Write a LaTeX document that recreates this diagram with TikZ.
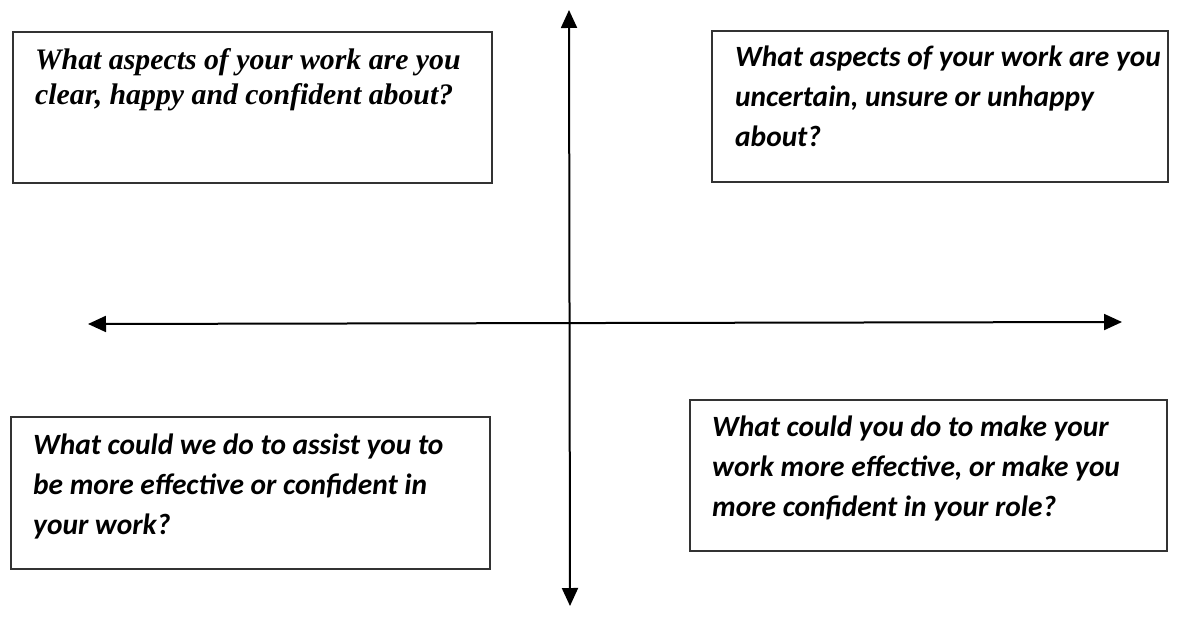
\documentclass[tikz,border=0pt]{standalone}
\usepackage{fontspec}
\setmainfont{Carlito}
\newfontfamily\serifq{Liberation Serif}
\usetikzlibrary{arrows.meta}
\begin{document}
\begin{tikzpicture}[x=1pt,y=-1pt,
  qbox/.style={draw=black!80, line width=1.5pt, rectangle, inner sep=0pt},
  qtext/.style={anchor=north west, inner sep=0pt, align=left,
    font=\fontsize{29.4}{40}\selectfont\bfseries\itshape},
  stext/.style={anchor=north west, inner sep=0pt, align=left,
    font=\fontsize{29.8}{35.5}\serifq\bfseries\itshape},
  axis/.style={line width=2pt, {Triangle[length=18pt,width=16pt]}-{Triangle[length=18pt,width=16pt]}}]
\useasboundingbox (0,0) rectangle (1182,628);
% boxes
\node[qbox, minimum width=479pt, minimum height=151pt] (tl) at (252.5,107.5) {};
\node[qbox, minimum width=456pt, minimum height=151pt] (tr) at (940,106.5) {};
\node[qbox, minimum width=479pt, minimum height=152pt] (bl) at (250.5,493) {};
\node[qbox, minimum width=477pt, minimum height=151pt] (br) at (928.5,475.5) {};
% texts
\node[stext] (tlt) at (35,48) {What aspects of your work are you\\clear, happy and confident about?};
\node[qtext] (trt) at (735,46) {What aspects of your work are you\\uncertain, unsure or unhappy\\about?};
\node[qtext] (blt) at (33,434) {What could we do to assist you to\\be more effective or confident in\\your work?};
\node[qtext] (brt) at (712,416) {What could you do to make your\\work more effective, or make you\\more confident in your role?};
% axes
\coordinate (top) at (569,10);
\coordinate (bot) at (570,606);
\coordinate (lft) at (88,324);
\coordinate (rgt) at (1122,322);
\draw[axis] (bot) -- (top);
\draw[axis] (lft) -- (rgt);
\end{tikzpicture}
\end{document}
